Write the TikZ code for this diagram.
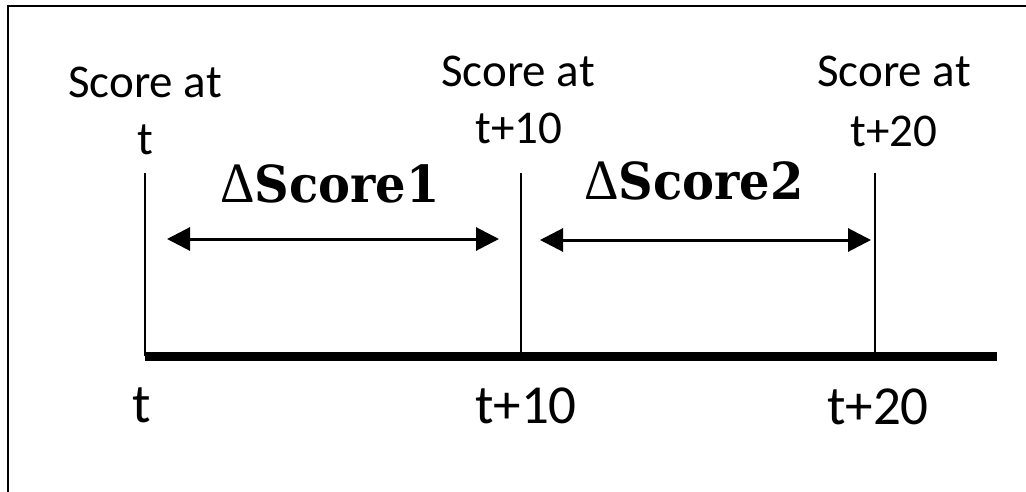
\documentclass[tikz,border=0pt]{standalone}
\usepackage{fontspec}
\usetikzlibrary{arrows.meta}
\newfontfamily\calib{Carlito}
\newfontfamily\grk{Liberation Serif}
\newfontfamily\heavyserif{DejaVu Serif}
\tikzset{
  frameline/.style={line width=2.5pt},
  tickline/.style={line width=2.5pt},
  axisline/.style={line width=9pt},
  spanarrow/.style={line width=3pt,{Triangle[length=23pt,width=23pt]}-{Triangle[length=23pt,width=23pt]}},
  toplabel/.style={anchor=base,inner sep=0pt,font=\calib\fontsize{47}{56}\selectfont},
  axislabel/.style={anchor=base,inner sep=0pt,font=\calib\fontsize{55}{66}\selectfont},
  deltalabel/.style={anchor=base,inner sep=0pt,font=\fontsize{51}{60}\selectfont},
}
\newcommand{\dscore}[1]{\scalebox{0.94}[1]{{\grk\fontsize{57}{64}\selectfont Δ}{\heavyserif\bfseries Score#1}}}
\begin{document}
\begin{tikzpicture}[x=1pt,y=-1pt]
  \useasboundingbox (0,0) rectangle (1026,492);
  % outer frame (left and top edges)
  \draw[frameline] (8,492) -- (8,6) -- (1026,6);

  % time points
  \coordinate (p0top) at (145,173);
  \coordinate (p0)    at (145,356);
  \coordinate (p1top) at (521,173);
  \coordinate (p1)    at (521,356);
  \coordinate (p2top) at (875,173);
  \coordinate (p2)    at (875,356);
  \coordinate (axend) at (997,356);

  % axis and ticks
  \draw[tickline] (p0top) -- (p0);
  \draw[tickline] (p1top) -- (p1);
  \draw[tickline] (p2top) -- (p2);
  \draw[axisline] (p0) -- (axend);

  % interval arrows
  \coordinate (a1l) at (167,239);
  \coordinate (a1r) at (499,239);
  \coordinate (a2l) at (540,240);
  \coordinate (a2r) at (871,240);
  \draw[spanarrow] (a1l) -- (a1r);
  \draw[spanarrow] (a2l) -- (a2r);
  \node[deltalabel] (d1) at (330,202) {\dscore{1}};
  \node[deltalabel] (d2) at (694,200) {\dscore{2}};

  % score labels
  \node[toplabel] (s0a) at (145,98)  {Score at};
  \node[toplabel] (s0b) at (145,155) {t};
  \node[toplabel] (s1a) at (518,87)  {Score at};
  \node[toplabel] (s1b) at (519,144) {t+10};
  \node[toplabel] (s2a) at (894,87)  {Score at};
  \node[toplabel] (s2b) at (894,147) {t+20};

  % axis labels
  \node[axislabel] (x0) at (142,422) {t};
  \node[axislabel] (x1) at (526,423) {t+10};
  \node[axislabel] (x2) at (878,424) {t+20};
\end{tikzpicture}
\end{document}
